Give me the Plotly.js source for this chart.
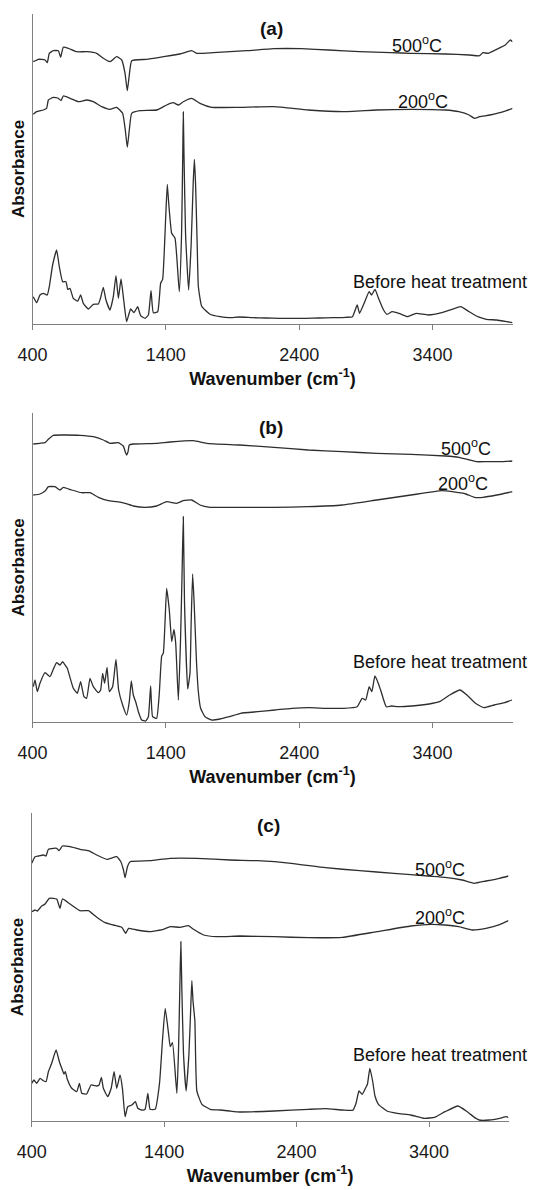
<!DOCTYPE html>
<html>
<head>
<meta charset="utf-8">
<script src="https://cdn.plot.ly/plotly-3.0.1.min.js"></script>
<style>html,body{margin:0;padding:0;background:#fff;}#chart{width:538px;height:1190px;}</style>
</head>
<body>
<div id="chart"></div>
<script>
// ---------- Panel (a) ----------
const aBeforeX = [406,431,456,481,511,526,551,581,601,626,651,664,681,706,739,761,781,819,856,894,911,931,951,981,1006,1026,1044,1064,1084,1106,1136,1161,1189,1211,1244,1269,1289,1306,1339,1361,1376,1400,1411,1422,1444,1469,1501,1518,1527,1531,1536,1548,1571,1590,1605,1614,1623,1635,1644,1669,1731,1806,1876,1950,2050,2150,2250,2350,2450,2550,2650,2750,2800,2835,2853,2892,2925,2943,2969,2995,3033,3059,3097,3148,3213,3277,3367,3470,3547,3611,3675,3740,3804,3881,3958,4000];
const aBeforeY = [0.273,0.213,0.29,0.307,0.29,0.373,0.59,0.74,0.573,0.423,0.423,0.347,0.357,0.257,0.23,0.29,0.207,0.15,0.197,0.2,0.263,0.367,0.24,0.14,0.273,0.483,0.257,0.45,0.24,0.023,0.15,0.113,0.173,0.083,0.057,0.09,0.333,0.113,0.123,0.407,0.447,1.1,1.397,1.2,0.907,0.857,0.323,0.9,1.7,2.12,1.7,0.9,0.34,0.8,1.4,1.647,1.4,0.8,0.373,0.177,0.097,0.073,0.063,0.07,0.063,0.06,0.057,0.057,0.057,0.06,0.063,0.067,0.073,0.19,0.107,0.223,0.323,0.29,0.347,0.257,0.14,0.097,0.123,0.107,0.073,0.107,0.09,0.113,0.147,0.173,0.123,0.073,0.047,0.04,0.023,0.013];
const a200X = [406,431,481,506,519,556,594,614,631,681,744,806,856,919,981,1031,1076,1096,1111,1126,1144,1206,1331,1406,1456,1494,1531,1594,1656,1744,1954,2211,2468,2725,2982,3239,3496,3598,3675,3714,3753,3830,3933,4000];
const a200Y = [2.097,2.123,2.14,2.157,2.24,2.267,2.257,2.233,2.28,2.257,2.223,2.24,2.223,2.173,2.147,2.167,2.107,1.94,1.767,1.94,2.107,2.133,2.14,2.19,2.213,2.19,2.223,2.257,2.207,2.167,2.167,2.173,2.14,2.123,2.14,2.147,2.14,2.123,2.09,2.057,2.073,2.09,2.123,2.157];
const a500X = [406,444,494,511,526,556,594,611,631,669,731,806,881,931,981,1031,1069,1094,1111,1126,1144,1256,1381,1506,1594,1631,1756,2006,2211,2417,2622,2853,3085,3239,3496,3675,3753,3778,3817,3881,3945,3984,4000];
const a500Y = [2.623,2.647,2.64,2.613,2.707,2.733,2.733,2.667,2.767,2.757,2.723,2.723,2.707,2.657,2.623,2.673,2.64,2.507,2.333,2.49,2.633,2.647,2.673,2.70,2.733,2.707,2.713,2.733,2.753,2.753,2.74,2.723,2.713,2.707,2.70,2.69,2.683,2.713,2.707,2.747,2.79,2.84,2.823];

// ---------- Panel (b) ----------
const bBeforeX = [406,419,436,456,494,531,556,581,606,626,644,661,676,706,736,761,786,806,831,856,894,911,926,941,959,976,1001,1026,1046,1076,1106,1126,1141,1156,1176,1194,1219,1249,1269,1286,1301,1331,1351,1369,1381,1394,1406,1426,1444,1461,1474,1494,1511,1522,1531,1540,1564,1581,1590,1601,1612,1630,1644,1661,1694,1744,1806,1876,1961,2089,2218,2346,2475,2603,2732,2835,2873,2899,2925,2945,2968,2989,3015,3053,3092,3143,3246,3375,3452,3529,3606,3658,3722,3786,3863,3940,3997];
const bBeforeY = [0.353,0.42,0.303,0.387,0.493,0.453,0.527,0.593,0.57,0.603,0.57,0.537,0.47,0.337,0.287,0.403,0.253,0.237,0.437,0.353,0.293,0.32,0.487,0.387,0.547,0.303,0.353,0.627,0.32,0.17,0.07,0.203,0.41,0.27,0.193,0.103,0.02,0.01,0.053,0.36,0.053,0.037,0.287,0.66,0.687,1.0,1.337,1.12,0.803,0.927,0.787,0.22,0.853,1.5,2.053,1.2,0.33,0.487,1.0,1.48,1.2,0.6,0.3,0.137,0.053,0.02,0.03,0.053,0.087,0.103,0.12,0.137,0.143,0.137,0.137,0.153,0.237,0.22,0.353,0.303,0.46,0.403,0.303,0.153,0.16,0.153,0.16,0.18,0.203,0.27,0.32,0.27,0.187,0.143,0.17,0.193,0.22];
const b200X = [406,456,494,519,569,606,631,694,769,831,894,969,1031,1094,1156,1244,1331,1406,1481,1531,1594,1656,1731,1954,2211,2468,2725,2982,3239,3470,3547,3650,3714,3779,3882,4000];
const b200Y = [2.27,2.28,2.31,2.353,2.353,2.32,2.347,2.32,2.293,2.293,2.247,2.213,2.203,2.187,2.16,2.147,2.16,2.203,2.187,2.213,2.22,2.17,2.147,2.147,2.147,2.153,2.17,2.22,2.27,2.313,2.303,2.28,2.247,2.247,2.27,2.303];
const b500X = [406,456,494,519,556,631,756,856,931,981,1044,1081,1096,1106,1116,1126,1156,1331,1431,1606,1706,1954,2211,2468,2725,2982,3239,3496,3599,3676,3727,3804,3907,4000];
const b500Y = [2.78,2.787,2.793,2.827,2.867,2.87,2.867,2.853,2.82,2.787,2.793,2.76,2.70,2.67,2.70,2.77,2.78,2.787,2.80,2.813,2.787,2.77,2.747,2.72,2.703,2.687,2.677,2.66,2.647,2.62,2.603,2.603,2.603,2.61];

// ---------- Panel (c) ----------
const cBeforeX = [400,417,438,463,488,508,526,551,584,609,627,644,654,669,702,740,760,778,815,848,891,909,926,941,974,1000,1022,1042,1067,1085,1105,1125,1156,1183,1201,1231,1256,1277,1294,1332,1365,1387,1408,1433,1446,1463,1496,1508,1518,1526,1534,1546,1566,1587,1600,1609,1618,1632,1647,1685,1748,1824,1894,1973,2231,2489,2618,2747,2824,2850,2871,2896,2922,2935,2953,2974,2992,3018,3082,3160,3263,3366,3443,3521,3619,3688,3753,3778,3856,3933,3985,4000];
const cBeforeY = [0.377,0.41,0.377,0.427,0.403,0.393,0.493,0.577,0.71,0.593,0.527,0.47,0.493,0.417,0.327,0.293,0.377,0.277,0.27,0.36,0.35,0.36,0.437,0.327,0.243,0.327,0.493,0.327,0.46,0.327,0.043,0.143,0.16,0.193,0.127,0.11,0.117,0.277,0.117,0.117,0.377,0.8,1.127,0.877,0.743,0.783,0.277,0.677,1.3,1.793,1.3,0.677,0.3,0.667,1.1,1.403,1.2,1.0,0.3,0.167,0.117,0.11,0.1,0.09,0.10,0.117,0.123,0.11,0.107,0.183,0.30,0.267,0.333,0.367,0.527,0.40,0.25,0.167,0.10,0.077,0.06,0.027,0.037,0.093,0.15,0.093,0.027,0.01,0.01,0.027,0.043,0.033];
const c200X = [400,425,443,475,501,533,564,589,614,632,690,765,828,891,954,1017,1080,1110,1131,1193,1294,1395,1446,1521,1584,1622,1698,1798,1973,2231,2489,2747,3005,3263,3418,3521,3624,3727,3830,3933,4000];
const c200Y = [2.093,2.11,2.10,2.15,2.17,2.227,2.227,2.22,2.127,2.22,2.17,2.103,2.103,2.037,1.983,1.96,1.937,1.877,1.927,1.91,1.893,1.917,1.943,1.937,1.953,1.917,1.86,1.843,1.85,1.843,1.833,1.837,1.893,1.95,1.967,1.96,1.943,1.91,1.927,1.963,2.003];
const c500X = [400,425,450,488,508,526,564,589,606,632,690,765,828,891,967,1042,1073,1093,1105,1123,1143,1294,1446,1647,1899,2102,2360,2618,2876,3134,3392,3521,3650,3740,3830,3933,4000];
const c500Y = [2.577,2.643,2.65,2.66,2.65,2.717,2.727,2.727,2.703,2.75,2.743,2.717,2.703,2.66,2.617,2.643,2.593,2.51,2.433,2.543,2.593,2.603,2.627,2.627,2.61,2.603,2.577,2.533,2.503,2.477,2.45,2.437,2.41,2.377,2.40,2.427,2.45];

// ---------- Text ----------
const panelTitles = ['(a)','(b)','(c)'];
const seriesLabels = ['500<sup>o</sup>C','200<sup>o</sup>C','Before heat treatment'];
const xTitle = '<b>Wavenumber (cm<sup>-1</sup>)</b>';
const yTitle = '<b>Absorbance</b>';
const tickValues = [400,1400,2400,3400];

const FONT = 'Liberation Sans, Arial, sans-serif';
const LINE = {color:'#2e2e2e', width:1.3, shape:'spline', smoothing:0.4};
const H = 1190, W = 538;

function tr(x, y, ax) {
  return {x:x, y:y, type:'scatter', mode:'lines', line:LINE, xaxis:'x'+ax, yaxis:'y'+ax, hoverinfo:'skip', showlegend:false};
}
const data = [
  tr(aBeforeX,aBeforeY,''), tr(a200X,a200Y,''), tr(a500X,a500Y,''),
  tr(bBeforeX,bBeforeY,'2'), tr(b200X,b200Y,'2'), tr(b500X,b500Y,'2'),
  tr(cBeforeX,cBeforeY,'3'), tr(c200X,c200Y,'3'), tr(c500X,c500Y,'3')
];

function xax(dom, anchor) {
  return {
    domain: dom, anchor: anchor, range: [400,4000], tickmode:'array', tickvals: tickValues,
    ticks:'outside', ticklen:5, tickcolor:'#808080', tickwidth:1,
    showline:true, linecolor:'#808080', linewidth:1, showgrid:false, zeroline:false,
    tickfont:{family:FONT, size:18, color:'#1a1a1a'}, ticklabelstandoff: 9,
    title:{text:xTitle, font:{family:FONT, size:18, color:'#111'}, standoff: 8},
    fixedrange:true
  };
}
function yax(dom, anchor, top) {
  return {
    domain: dom, anchor: anchor, range: [0, top],
    showline:true, linecolor:'#808080', linewidth:1, showgrid:false, zeroline:false,
    ticks:'', showticklabels:false,
    title:{text:yTitle, font:{family:FONT, size:17, color:'#111'}, standoff: 2},
    fixedrange:true
  };
}
function py(p){ return 1 - p/H; }
function px(p){ return p/W; }

const annotations = [];
function ann(text, x, y, size) {
  annotations.push({text:text, xref:'paper', yref:'paper', x:px(x), y:py(y), xanchor:'center', yanchor:'middle',
    showarrow:false, font:{family:FONT, size:size, color:'#111'}});
}
// panel (a)
ann('<b>' + panelTitles[0] + '</b>', 271, 28, 19);
ann(seriesLabels[0], 417, 45, 18);
ann(seriesLabels[1], 423, 100, 18);
ann(seriesLabels[2], 440, 282, 18);
// panel (b)
ann('<b>' + panelTitles[1] + '</b>', 271, 427, 19);
ann(seriesLabels[0], 466, 447, 18);
ann(seriesLabels[1], 463, 482, 18);
ann(seriesLabels[2], 440, 662, 18);
// panel (c)
ann('<b>' + panelTitles[2] + '</b>', 268, 825, 19);
ann(seriesLabels[0], 440, 868, 18);
ann(seriesLabels[1], 440, 916, 18);
ann(seriesLabels[2], 440, 1055, 18);

const layout = {
  width: W, height: H, margin:{l:0, r:0, t:0, b:0},
  paper_bgcolor:'#fff', plot_bgcolor:'#fff', showlegend:false,
  font:{family:FONT},
  xaxis: xax([px(32.5), px(512.5)], 'y'),
  yaxis: yax([py(324), py(14)], 'x', 3.10),
  xaxis2: xax([px(32.5), px(512.5)], 'y2'),
  yaxis2: yax([py(722), py(413)], 'x2', 3.09),
  xaxis3: xax([px(31.7), px(508.5)], 'y3'),
  yaxis3: yax([py(1121), py(813)], 'x3', 3.08),
  annotations: annotations
};
Plotly.newPlot('chart', data, layout, {displayModeBar:false});
</script>
</body>
</html>
